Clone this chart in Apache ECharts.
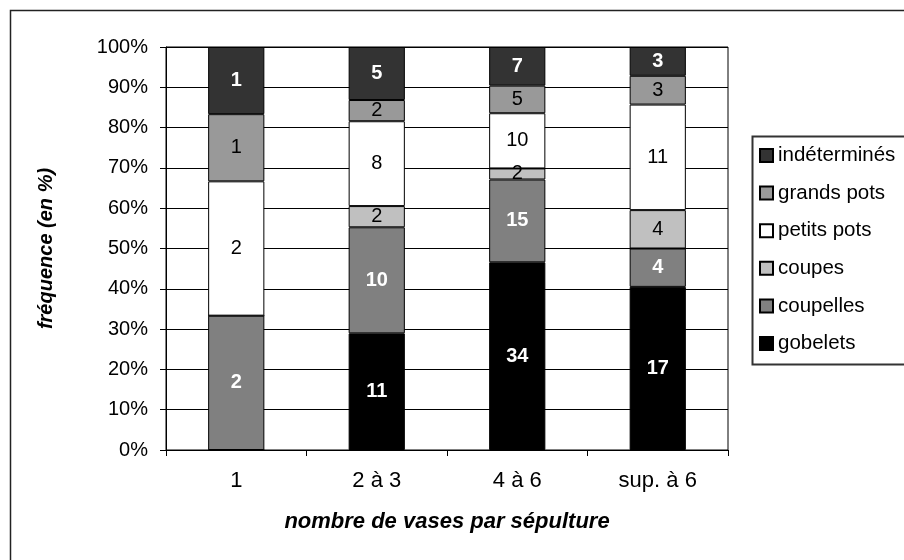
<!DOCTYPE html>
<html><head><meta charset="utf-8">
<script src="https://cdn.jsdelivr.net/npm/echarts@6/dist/echarts.min.js"></script>
<style>html,body{margin:0;padding:0;background:#fff}#c{width:904px;height:560px}</style>
</head><body><div id="c"></div>
<script>
const categories = ['1', '2 à 3', '4 à 6', 'sup. à 6'];
const gobelets     = [0, 11, 34, 17];
const coupelles    = [2, 10, 15, 4];
const coupes       = [0, 2, 2, 4];
const petitsPots   = [2, 8, 10, 11];
const grandsPots   = [1, 2, 5, 3];
const indetermines = [1, 5, 7, 3];
const yTicks = [0, 10, 20, 30, 40, 50, 60, 70, 80, 90, 100];

const FONT = "'Liberation Sans', Arial, sans-serif";
const seriesDefs = [
  {name: 'gobelets', data: gobelets, color: '#000000', light: false},
  {name: 'coupelles', data: coupelles, color: '#808080', light: false},
  {name: 'coupes', data: coupes, color: '#c0c0c0', light: true},
  {name: 'petits pots', data: petitsPots, color: '#ffffff', light: true},
  {name: 'grands pots', data: grandsPots, color: '#999999', light: true},
  {name: 'indéterminés', data: indetermines, color: '#333333', light: false}
];
const totals = categories.map((_, i) => seriesDefs.reduce((s, d) => s + d.data[i], 0));

const series = seriesDefs.map(d => ({
  name: d.name,
  type: 'bar',
  stack: 'all',
  barWidth: '40%',
  data: d.data.map((v, i) => ({value: v / totals[i] * 100, count: v})),
  itemStyle: {color: d.color, borderColor: '#000', borderWidth: 1},
  label: {
    show: true,
    position: 'inside',
    fontFamily: FONT,
    fontSize: 20,
    fontWeight: d.light ? 'normal' : 'bold',
    color: d.light ? '#000' : '#fff',
    formatter: p => p.data.count ? String(p.data.count) : ''
  },
  emphasis: {disabled: true}
}));

const chart = echarts.init(document.getElementById('c'), null, {renderer: 'canvas'});
chart.setOption({
  animation: false,
  backgroundColor: '#fff',
  textStyle: {fontFamily: FONT},
  grid: {left: 166, right: 176, top: 47, bottom: 110, show: true, borderColor: '#000', borderWidth: 1, backgroundColor: 'transparent'},
  xAxis: {
    type: 'category',
    data: categories,
    axisLine: {lineStyle: {color: '#000', width: 1}},
    axisTick: {show: true, length: 6, lineStyle: {color: '#000'}},
    axisLabel: {fontFamily: FONT, fontSize: 22, color: '#000', margin: 20},
    name: 'nombre de vases par sépulture',
    nameLocation: 'middle',
    nameGap: 61,
    nameTextStyle: {fontFamily: FONT, fontSize: 22, fontWeight: 'bold', fontStyle: 'italic', color: '#000'}
  },
  yAxis: {
    type: 'value',
    min: 0, max: 100, interval: 10,
    axisLine: {show: true, lineStyle: {color: '#000', width: 1}},
    axisTick: {show: true, length: 6, lineStyle: {color: '#000'}},
    axisLabel: {fontFamily: FONT, fontSize: 20, color: '#000', margin: 18, formatter: v => yTicks.includes(v) ? v + '%' : ''},
    splitLine: {show: true, lineStyle: {color: '#000', width: 1}},
    name: 'fréquence (en %)',
    nameLocation: 'middle',
    nameGap: 110,
    nameRotate: 90,
    nameTextStyle: {fontFamily: FONT, fontSize: 20, fontWeight: 'bold', fontStyle: 'italic', color: '#000'}
  },
  legend: {
    orient: 'vertical',
    left: 759,
    top: 145,
    padding: 0,
    itemWidth: 13,
    itemHeight: 13,
    itemGap: 16.6,
    icon: 'rect',
    data: ['indéterminés', 'grands pots', 'petits pots', 'coupes', 'coupelles', 'gobelets'],
    textStyle: {fontFamily: FONT, fontSize: 20.5, color: '#000', lineHeight: 20}
  },
  graphic: [
    {type: 'rect', left: 8, top: 8, shape: {x: 0, y: 0, width: 1000, height: 1000}, style: {fill: 'none', stroke: '#222', lineWidth: 1.5}, silent: true},
    {type: 'rect', left: 750, top: 134, shape: {x: 0, y: 0, width: 300, height: 228}, style: {fill: 'none', stroke: '#333', lineWidth: 2}, silent: true}
  ],
  series: series
});
</script></body></html>
